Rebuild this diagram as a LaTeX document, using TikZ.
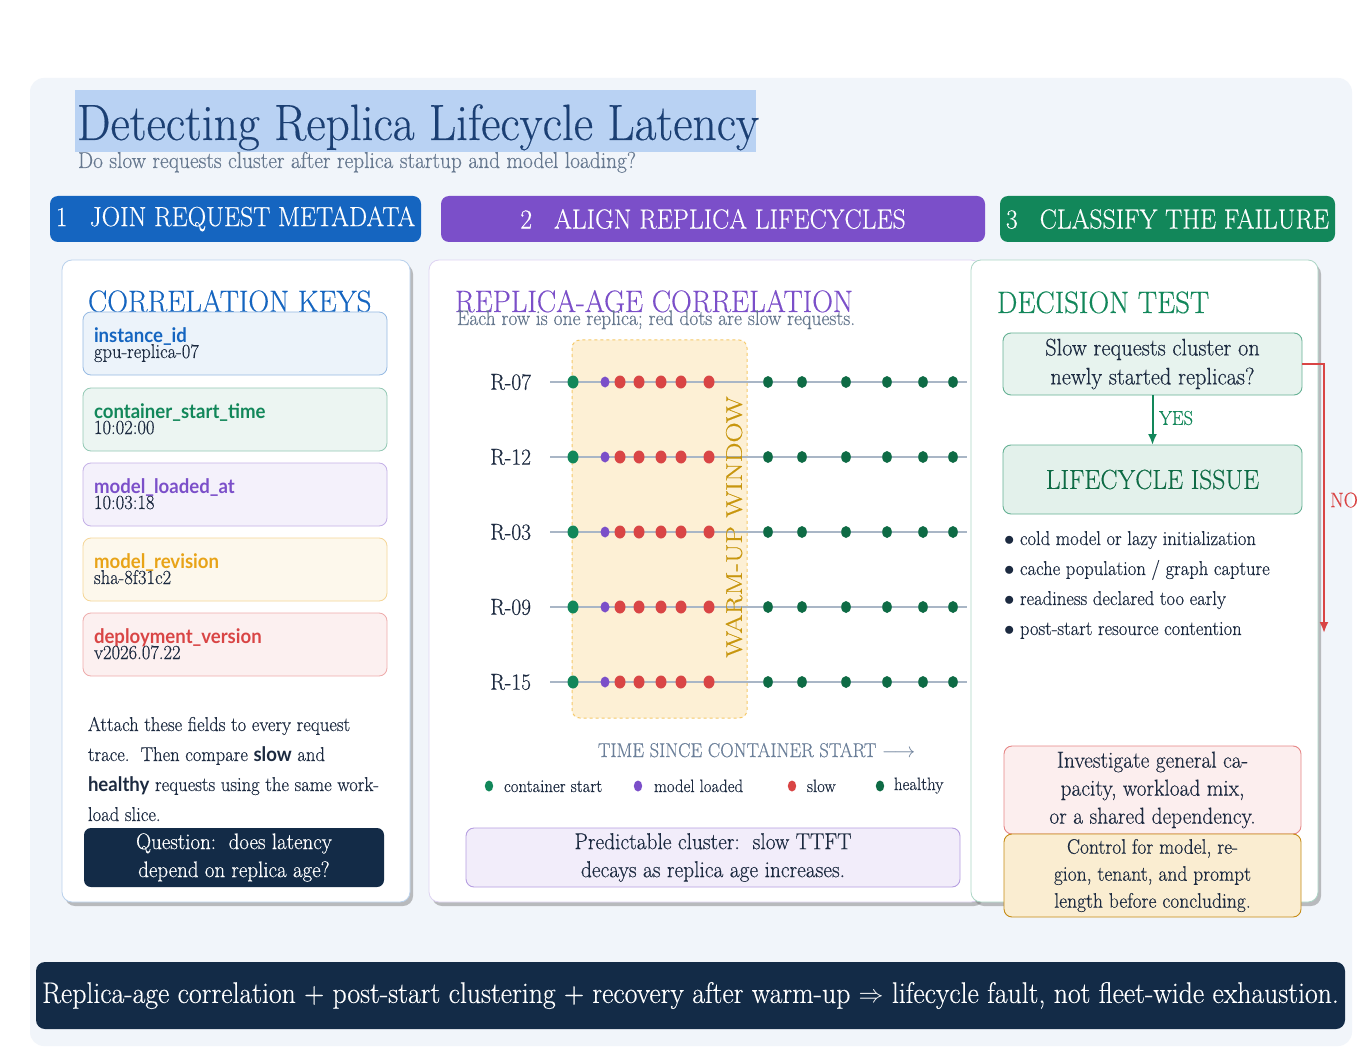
\documentclass[tikz,border=0pt]{standalone}
\usepackage{fontspec}
\usepackage{graphicx}
\setmainfont{Latin Modern Roman}[FakeStretch=0.93, FakeBold=0.35]
\setsansfont{Latin Modern Sans}[FakeStretch=0.93]
\newfontfamily\keyfont{Lato}[FakeStretch=0.93]
\newfontfamily\plainlm{Latin Modern Roman}[FakeBold=0.35]
\usetikzlibrary{shadows,arrows.meta}
\definecolor{pagebg}{HTML}{F1F5FA}
\definecolor{titlehl}{HTML}{B9D2F3}
\definecolor{titleink}{HTML}{1B3F73}
\definecolor{subink}{HTML}{66788F}
\definecolor{ink}{HTML}{1C2A40}
\definecolor{cblue}{HTML}{1565C0}
\definecolor{cpurple}{HTML}{7B4FC9}
\definecolor{cgreen}{HTML}{12875A}
\definecolor{cdgreen}{HTML}{0E6B45}
\definecolor{cred}{HTML}{D94545}
\definecolor{corange}{HTML}{E8A317}
\definecolor{cnavy}{HTML}{132B47}
\definecolor{rowline}{HTML}{A9B6C6}
\definecolor{warmfill}{HTML}{FDF0D5}
\definecolor{warmline}{HTML}{F5C96A}
\definecolor{warmink}{HTML}{C8960E}
\definecolor{axisink}{HTML}{6B7F99}
\newcommand{\fsz}[1]{\fontsize{#1}{#1}\selectfont}
\begin{document}
\begin{tikzpicture}[x=1pt,y=-1pt,
  every node/.style={inner sep=0pt, outer sep=0pt},
  tab/.style={fill=#1, rounded corners=8pt, minimum height=46pt, text=white, font=\fsz{27.6}},
  panel/.style={draw=#1, line width=0.8pt, fill=white, rounded corners=10pt,
     drop shadow={shadow xshift=3pt, shadow yshift=-4pt, opacity=0.45, fill=black!55}},
  heading/.style={anchor=base west, text=#1, font=\fsz{31}},
  keybox/.style={draw=#1!45, fill=#1!8, line width=0.8pt, rounded corners=8pt, minimum width=304pt, minimum height=63pt},
  keylab/.style={anchor=base west, text=#1, font=\keyfont\bfseries\fsz{20}},
  keyval/.style={anchor=base west, text=ink, font=\fsz{20}},
  bodytxt/.style={anchor=base west, text=ink, font=\fsz{20}},
  infobox/.style={draw=#1, line width=0.9pt, rounded corners=8pt, align=center, text=ink},
  arrowg/.style={draw=cgreen, line width=2pt, -{Latex[length=11pt,width=9pt]}},
  arrowr/.style={draw=cred, line width=2pt, -{Latex[length=11pt,width=9pt]}},
]
\useasboundingbox (0,0) rectangle (1370,1064);
\fill[white] (0,0) rectangle (1370,1064);
\fill[pagebg, rounded corners=14pt] (30,78) rectangle (1352,1046);

% title
\node[fill=titlehl, minimum width=681pt, minimum height=62pt] (titlebg) at (415.5,121) {};
\node[anchor=base west, text=titleink, font=\fsz{51}] (title) at (77,140) {Detecting Replica Lifecycle Latency};
\node[anchor=base west, text=subink, font=\fsz{23}] (subtitle) at (78,168) {Do slow requests cluster after replica startup and model loading?};

% step tabs
\node[tab=cblue, minimum width=371pt] (tab1) at (235.5,219) {1\hspace{22pt}JOIN REQUEST METADATA};
\node[tab=cpurple, minimum width=544pt] (tab2) at (713,219) {2\hspace{22pt}ALIGN REPLICA LIFECYCLES};
\node[tab=cgreen, minimum width=335pt] (tab3) at (1167.5,219) {3\hspace{22pt}CLASSIFY THE FAILURE};

% panels
\node[panel=cblue!30, minimum width=348pt, minimum height=642pt] (p1) at (236,581) {};
\node[panel=cpurple!25, minimum width=552pt, minimum height=642pt] (p2) at (705,581) {};
\node[panel=cgreen!35, minimum width=347pt, minimum height=642pt] (p3) at (1144.5,581) {};

% panel 1
\node[heading=cblue] (h1) at (88,312) {CORRELATION KEYS};
\foreach \i/\top/\key/\val/\col in {1/312/instance\_id/gpu-replica-07/cblue,
   2/388/container\_start\_time/10:02:00/cgreen,
   3/463/model\_loaded\_at/10:03:18/cpurple,
   4/538/model\_revision/sha-8f31c2/corange,
   5/613/deployment\_version/v2026.07.22/cred}{
  \node[keybox=\col] (kb\i) at (235,\top+31.5) {};
  \node[keylab=\col] (kl\i) at (94,\top+30) {\key};
  \node[keyval] (kv\i) at (94,\top+46) {\val};
}
\node[bodytxt] (pa1) at (88,731) {Attach these fields to every request};
\node[bodytxt] (pa2) at (88,761) {trace.\ \ Then compare {\keyfont\bfseries slow} and};
\node[bodytxt] (pa3) at (88,791) {{\keyfont\bfseries healthy} requests using the same work-};
\node[bodytxt] (pa4) at (88,821) {load slice.};
\node[fill=cnavy, rounded corners=7pt, minimum width=300pt, minimum height=59pt, align=center,
  text=white, font=\fontsize{22.5}{28}\selectfont] (question) at (234,857.5) {Question:\ \ does latency\\depend on replica age?};

% panel 2
\node[heading=cpurple] (h2) at (455,312) {REPLICA-AGE CORRELATION};
\node[anchor=base west, text=subink, font=\fsz{21}] (h2sub) at (457,325) {Each row is one replica; red dots are slow requests.};
\draw[warmline, fill=warmfill, dashed, line width=1pt, rounded corners=8pt] (572,340) rectangle (747,718);
\foreach \lab [count=\k] in {R-07,R-12,R-03,R-09,R-15}{
  \pgfmathsetmacro{\yy}{382+75*(\k-1)}
  \node[anchor=east, text=ink, font=\fsz{23}] (rl\k) at (531,\yy) {\lab};
  \draw[rowline, line width=2.2pt] (550,\yy) -- (967,\yy);
  \fill[cgreen] (573,\yy) ellipse [x radius=5.5pt, y radius=6.5pt];
  \fill[cpurple] (605,\yy) ellipse [x radius=4.5pt, y radius=5.5pt];
  \foreach \xx in {620,639,661,681,709}{\fill[cred] (\xx,\yy) ellipse [x radius=5.5pt, y radius=6.5pt];}
  \foreach \xx in {768,802,846,887,923,953}{\fill[cdgreen] (\xx,\yy) ellipse [x radius=4.8pt, y radius=6pt];}
}
\node[rotate=90, text=warmink, font=\plainlm\fsz{28}] (warm) at (734,527) {\scalebox{1}[0.82]{WARM-UP WINDOW}};
\node[anchor=base west, text=axisink, font=\fsz{20}] (axis) at (598,757) {TIME SINCE CONTAINER START $\longrightarrow$};
\fill[cgreen] (489,786) ellipse [x radius=4.2pt, y radius=5.5pt];
\node[anchor=base west, text=ink, font=\fsz{18}] (lg1) at (504,792) {container start};
\fill[cpurple] (638,786) ellipse [x radius=4.2pt, y radius=5.5pt];
\node[anchor=base west, text=ink, font=\fsz{18}] (lg2) at (654,792) {model loaded};
\fill[cred] (792,786) ellipse [x radius=4.2pt, y radius=5.5pt];
\node[anchor=base west, text=ink, font=\fsz{18}] (lg3) at (807,792) {slow};
\fill[cdgreen] (880,786) ellipse [x radius=4.2pt, y radius=5.5pt];
\node[anchor=base west, text=ink, font=\fsz{18}] (lg4) at (894,790) {healthy};
\node[infobox=cpurple!55, fill=cpurple!10, minimum width=494pt, minimum height=59pt,
  font=\fontsize{23}{28}\selectfont] (pred) at (713,857.5) {Predictable cluster:\ \ slow TTFT\\decays as replica age increases.};

% panel 3
\node[heading=cgreen] (h3) at (997,313) {DECISION TEST};
\node[infobox=cgreen!65, fill=cgreen!10, minimum width=299pt, minimum height=62pt,
  font=\fontsize{24}{29}\selectfont] (q) at (1152.5,364) {Slow requests cluster on\\newly started replicas?};
\node[infobox=cgreen!65, fill=cgreen!12, minimum width=299pt, minimum height=69pt,
  text=cdgreen, font=\fsz{27.5}] (life) at (1152.5,479.5) {LIFECYCLE ISSUE};
\draw[arrowg] (q.south) -- (life.north);
\node[anchor=west, text=cgreen, font=\fsz{20}] (yes) at (1159,418) {YES};
\node[bodytxt] (b1) at (1004,545) {$\bullet$ cold model or lazy initialization};
\node[bodytxt] (b2) at (1004,575) {$\bullet$ cache population / graph capture};
\node[bodytxt] (b3) at (1004,605) {$\bullet$ readiness declared too early};
\node[bodytxt] (b4) at (1004,635) {$\bullet$ post-start resource contention};
\coordinate (noend) at (1324,633);
\draw[arrowr] (q.east) -| (noend);
\node[text=cred, font=\fsz{21}] (no) at (1344,500) {NO};
\node[infobox=cred!65, fill=cred!9, minimum width=297pt, minimum height=88pt,
  font=\fontsize{23}{28}\selectfont] (inv) at (1152.5,790) {Investigate general ca-\\pacity, workload mix,\\or a shared dependency.};
\node[infobox=corange!85!black, fill=corange!20, minimum width=297pt, minimum height=83pt,
  font=\fontsize{21}{27}\selectfont] (ctrl) at (1152.5,875.5) {Control for model, re-\\gion, tenant, and prompt\\length before concluding.};

% summary bar
\node[fill=cnavy, rounded corners=9pt, minimum width=1309pt, minimum height=67pt, text=white,
  font=\fsz{29.8}] (summary) at (690.5,995.5) {Replica-age correlation + post-start clustering + recovery after warm-up $\Rightarrow$ lifecycle fault, not fleet-wide exhaustion.};
\end{tikzpicture}
\end{document}
